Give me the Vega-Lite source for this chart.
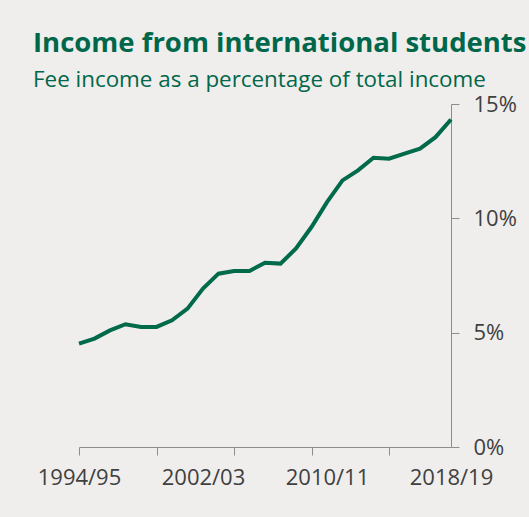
{
  "$schema": "https://vega.github.io/schema/vega-lite/v6.json",
  "width": 372,
  "height": 343,
  "autosize": {"type": "none"},
  "padding": {"left": 79, "top": 104, "right": 78, "bottom": 70},
  "background": "#efeeec",
  "title": {
    "text": "Income from international students",
    "subtitle": "Fee income as a percentage of total income",
    "anchor": "start",
    "frame": "group",
    "dx": -46,
    "offset": 2,
    "font": "Open Sans",
    "fontSize": 27.5,
    "fontWeight": "bold",
    "color": "#00674a",
    "subtitleFont": "Open Sans",
    "subtitleFontSize": 22.4,
    "subtitleColor": "#00674a",
    "subtitlePadding": 11
  },
  "data": {
    "values": [
      {"start": 1994, "pct": 4.52},
      {"start": 1995, "pct": 4.74},
      {"start": 1996, "pct": 5.10},
      {"start": 1997, "pct": 5.37},
      {"start": 1998, "pct": 5.25},
      {"start": 1999, "pct": 5.25},
      {"start": 2000, "pct": 5.54},
      {"start": 2001, "pct": 6.05},
      {"start": 2002, "pct": 6.93},
      {"start": 2003, "pct": 7.58},
      {"start": 2004, "pct": 7.70},
      {"start": 2005, "pct": 7.70},
      {"start": 2006, "pct": 8.06},
      {"start": 2007, "pct": 8.02},
      {"start": 2008, "pct": 8.68},
      {"start": 2009, "pct": 9.62},
      {"start": 2010, "pct": 10.71},
      {"start": 2011, "pct": 11.66},
      {"start": 2012, "pct": 12.10},
      {"start": 2013, "pct": 12.65},
      {"start": 2014, "pct": 12.61},
      {"start": 2015, "pct": 12.83},
      {"start": 2016, "pct": 13.05},
      {"start": 2017, "pct": 13.55},
      {"start": 2018, "pct": 14.32}
    ]
  },
  "mark": {"type": "line", "color": "#006a4b", "strokeWidth": 4, "strokeJoin": "miter"},
  "encoding": {
    "x": {
      "field": "start",
      "type": "quantitative",
      "scale": {"domain": [1994, 2018], "nice": false, "zero": false},
      "axis": {
        "title": null,
        "grid": false,
        "values": [1994, 1999, 2002, 2004, 2009, 2010, 2014, 2018],
        "labelExpr": "indexof([1994, 2002, 2010, 2018], datum.value) >= 0 ? toString(datum.value) + '/' + substring(toString(datum.value + 1), 2, 4) : ''",
        "tickOpacity": {"condition": {"test": "indexof([1994, 1999, 2004, 2009, 2014], datum.value) >= 0", "value": 1}, "value": 0},
        "tickSize": 8,
        "tickColor": "#8c8c8c",
        "domainColor": "#8c8c8c",
        "labelFont": "Open Sans",
        "labelFontSize": 22,
        "labelColor": "#404040",
        "labelPadding": 12,
        "labelOverlap": false,
        "labelFlush": false
      }
    },
    "y": {
      "field": "pct",
      "type": "quantitative",
      "scale": {"domain": [0, 15], "nice": false},
      "axis": {
        "orient": "right",
        "title": null,
        "grid": false,
        "values": [0, 5, 10, 15],
        "labelExpr": "datum.value + '%'",
        "tickSize": 8,
        "tickColor": "#8c8c8c",
        "domainColor": "#8c8c8c",
        "labelFont": "Open Sans",
        "labelFontSize": 22,
        "labelColor": "#404040",
        "labelPadding": 14,
        "labelOverlap": false,
        "labelFlush": false
      }
    }
  },
  "config": {"view": {"stroke": null}}
}
